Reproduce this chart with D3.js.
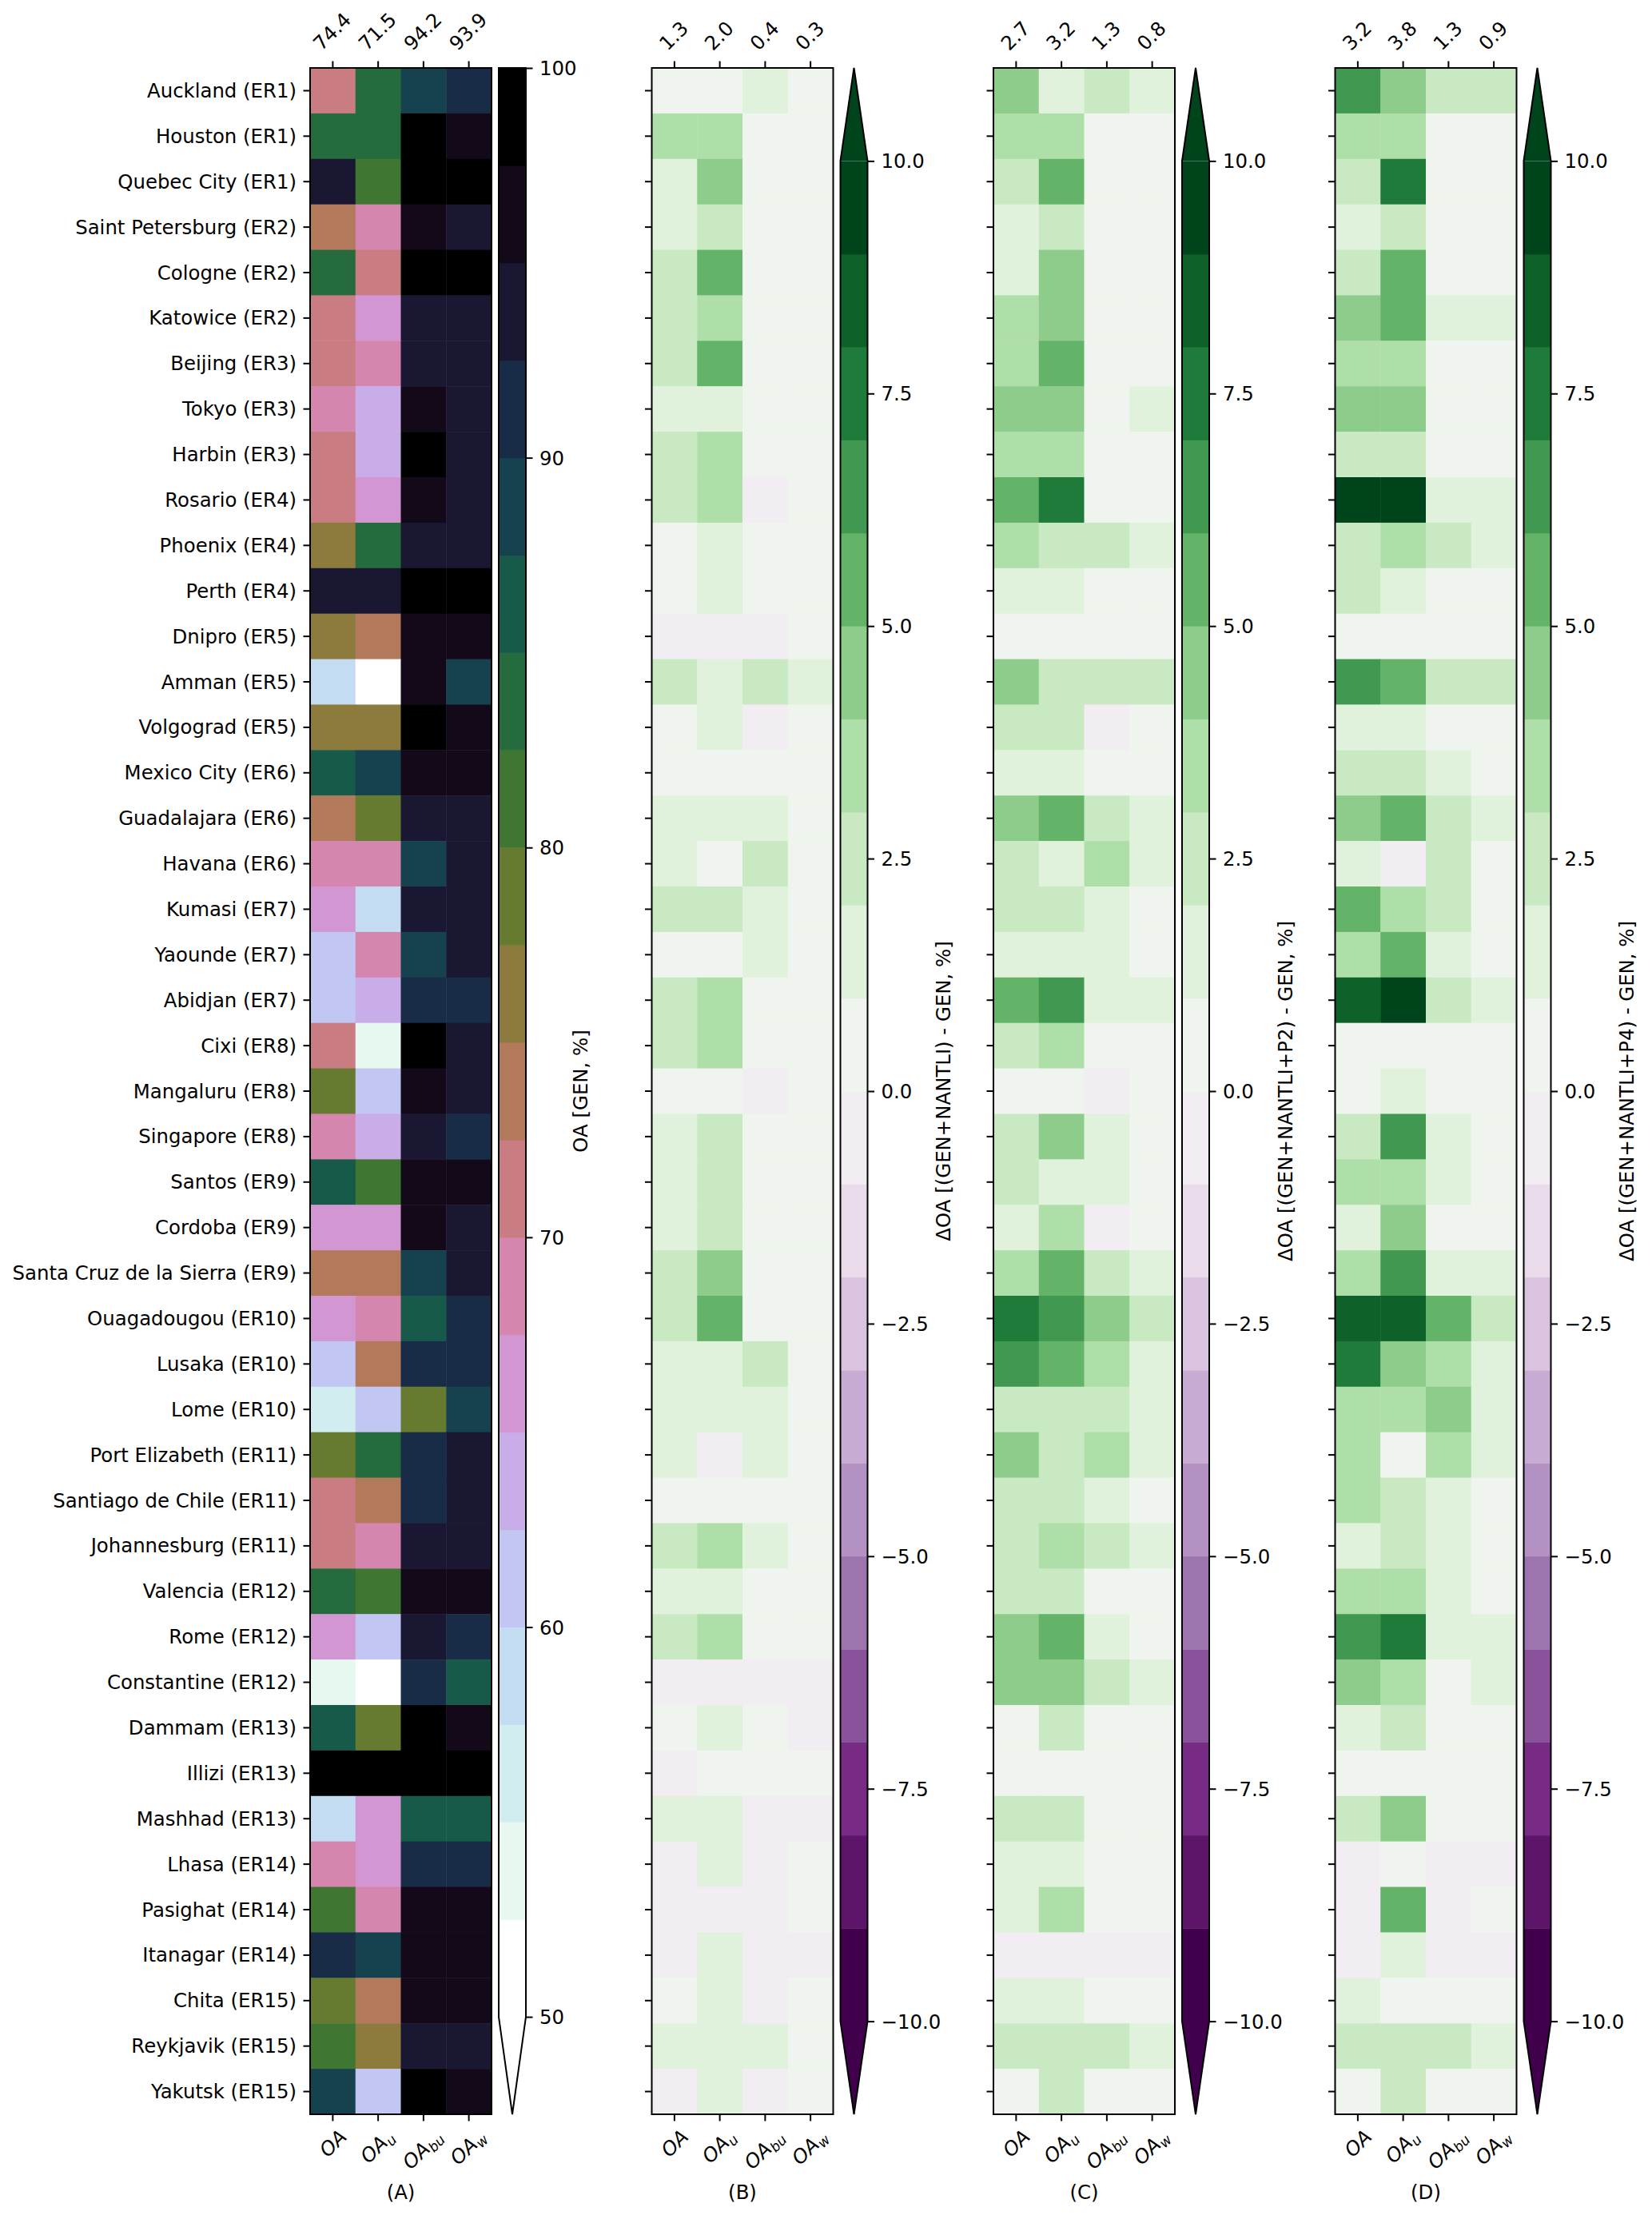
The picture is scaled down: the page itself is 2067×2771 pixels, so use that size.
<!DOCTYPE html>
<html><head><meta charset="utf-8">
<script src="https://cdn.jsdelivr.net/npm/d3@7"></script>
<style>body{margin:0;background:#fff}</style>
</head><body><svg id="chart" width="2067" height="2771" xmlns="http://www.w3.org/2000/svg"></svg>
<script>
const cities = ["Auckland (ER1)","Houston (ER1)","Quebec City (ER1)","Saint Petersburg (ER2)","Cologne (ER2)","Katowice (ER2)","Beijing (ER3)","Tokyo (ER3)","Harbin (ER3)","Rosario (ER4)","Phoenix (ER4)","Perth (ER4)","Dnipro (ER5)","Amman (ER5)","Volgograd (ER5)","Mexico City (ER6)","Guadalajara (ER6)","Havana (ER6)","Kumasi (ER7)","Yaounde (ER7)","Abidjan (ER7)","Cixi (ER8)","Mangaluru (ER8)","Singapore (ER8)","Santos (ER9)","Cordoba (ER9)","Santa Cruz de la Sierra (ER9)","Ouagadougou (ER10)","Lusaka (ER10)","Lome (ER10)","Port Elizabeth (ER11)","Santiago de Chile (ER11)","Johannesburg (ER11)","Valencia (ER12)","Rome (ER12)","Constantine (ER12)","Dammam (ER13)","Illizi (ER13)","Mashhad (ER13)","Lhasa (ER14)","Pasighat (ER14)","Itanagar (ER14)","Chita (ER15)","Reykjavik (ER15)","Yakutsk (ER15)"];
const metrics = ["OA","OA_u","OA_bu","OA_w"];
const metricSubs = ["","u","bu","w"];

// Panel A: OA [GEN, %]
const oaGen = [
[71.25,83.75,88.75,91.25],[83.75,83.75,98.75,96.25],[93.75,81.25,98.75,98.75],[73.75,68.75,96.25,93.75],
[83.75,71.25,98.75,98.75],[71.25,66.25,93.75,93.75],[71.25,68.75,93.75,93.75],[68.75,63.75,96.25,93.75],
[71.25,63.75,98.75,93.75],[71.25,66.25,96.25,93.75],[76.25,83.75,93.75,93.75],[93.75,93.75,98.75,98.75],
[76.25,73.75,96.25,96.25],[58.75,51.25,96.25,88.75],[76.25,76.25,98.75,96.25],[86.25,88.75,96.25,96.25],
[73.75,78.75,93.75,93.75],[68.75,68.75,88.75,93.75],[66.25,58.75,93.75,93.75],[61.25,68.75,88.75,93.75],
[61.25,63.75,91.25,91.25],[71.25,53.75,98.75,93.75],[78.75,61.25,96.25,93.75],[68.75,63.75,93.75,91.25],
[86.25,81.25,96.25,96.25],[66.25,66.25,96.25,93.75],[73.75,73.75,88.75,93.75],[66.25,68.75,86.25,91.25],
[61.25,73.75,91.25,91.25],[56.25,61.25,78.75,88.75],[78.75,83.75,91.25,93.75],[71.25,73.75,91.25,93.75],
[71.25,68.75,93.75,93.75],[83.75,81.25,96.25,96.25],[66.25,61.25,93.75,91.25],[53.75,51.25,91.25,86.25],
[86.25,78.75,98.75,96.25],[98.75,98.75,98.75,98.75],[58.75,66.25,86.25,86.25],[68.75,66.25,91.25,91.25],
[81.25,68.75,96.25,96.25],[91.25,88.75,96.25,96.25],[78.75,73.75,96.25,96.25],[81.25,76.25,93.75,93.75],
[88.75,61.25,98.75,96.25]];

// Panel B: (GEN+NANTLI) - GEN
const dNantli = [
[0.5,0.5,1.5,0.5],[3.5,3.5,0.5,0.5],[1.5,4.5,0.5,0.5],[1.5,2.5,0.5,0.5],[2.5,5.5,0.5,0.5],
[2.5,3.5,0.5,0.5],[2.5,5.5,0.5,0.5],[1.5,1.5,0.5,0.5],[2.5,3.5,0.5,0.5],[2.5,3.5,-0.5,0.5],
[0.5,1.5,0.5,0.5],[0.5,1.5,0.5,0.5],[-0.5,-0.5,-0.5,0.5],[2.5,1.5,2.5,1.5],[0.5,1.5,-0.5,0.5],
[0.5,0.5,0.5,0.5],[1.5,1.5,1.5,0.5],[1.5,0.5,2.5,0.5],[2.5,2.5,1.5,0.5],[0.5,0.5,1.5,0.5],
[2.5,3.5,0.5,0.5],[2.5,3.5,0.5,0.5],[0.5,0.5,-0.5,0.5],[1.5,2.5,0.5,0.5],[1.5,2.5,0.5,0.5],
[1.5,2.5,0.5,0.5],[2.5,4.5,0.5,0.5],[2.5,5.5,0.5,0.5],[1.5,1.5,2.5,0.5],[1.5,1.5,1.5,0.5],
[1.5,-0.5,1.5,0.5],[0.5,0.5,0.5,0.5],[2.5,3.5,1.5,0.5],[1.5,1.5,0.5,0.5],[2.5,3.5,0.5,0.5],
[-0.5,-0.5,-0.5,-0.5],[0.5,1.5,0.5,-0.5],[-0.5,0.5,0.5,0.5],[1.5,1.5,-0.5,-0.5],[-0.5,1.5,-0.5,0.5],
[-0.5,-0.5,-0.5,0.5],[-0.5,1.5,-0.5,-0.5],[0.5,1.5,-0.5,0.5],[1.5,1.5,1.5,0.5],[-0.5,1.5,-0.5,0.5]];

// Panel C: (GEN+NANTLI+P2) - GEN
const dNantliP2 = [
[4.5,1.5,2.5,1.5],[3.5,3.5,0.5,0.5],[2.5,5.5,0.5,0.5],[1.5,2.5,0.5,0.5],[1.5,4.5,0.5,0.5],
[3.5,4.5,0.5,0.5],[3.5,5.5,0.5,0.5],[4.5,4.5,0.5,1.5],[3.5,3.5,0.5,0.5],[5.5,7.5,0.5,0.5],
[3.5,2.5,2.5,1.5],[1.5,1.5,0.5,0.5],[0.5,0.5,0.5,0.5],[4.5,2.5,2.5,2.5],[2.5,2.5,-0.5,0.5],
[1.5,1.5,0.5,0.5],[4.5,5.5,2.5,1.5],[2.5,1.5,3.5,1.5],[2.5,2.5,1.5,0.5],[1.5,1.5,1.5,0.5],
[5.5,6.5,1.5,1.5],[2.5,3.5,0.5,0.5],[0.5,0.5,-0.5,0.5],[2.5,4.5,1.5,0.5],[2.5,1.5,1.5,0.5],
[1.5,3.5,-0.5,0.5],[3.5,5.5,2.5,1.5],[7.5,6.5,4.5,2.5],[6.5,5.5,3.5,1.5],[2.5,2.5,2.5,1.5],
[4.5,2.5,3.5,1.5],[2.5,2.5,1.5,0.5],[2.5,3.5,2.5,1.5],[2.5,2.5,0.5,0.5],[4.5,5.5,1.5,0.5],
[4.5,4.5,2.5,1.5],[0.5,2.5,0.5,0.5],[0.5,0.5,0.5,0.5],[2.5,2.5,0.5,0.5],[1.5,1.5,0.5,0.5],
[1.5,3.5,0.5,0.5],[-0.5,-0.5,-0.5,-0.5],[1.5,1.5,0.5,0.5],[2.5,2.5,2.5,1.5],[0.5,2.5,0.5,0.5]];

// Panel D: (GEN+NANTLI+P4) - GEN
const dNantliP4 = [
[6.5,4.5,2.5,2.5],[3.5,3.5,0.5,0.5],[2.5,7.5,0.5,0.5],[1.5,2.5,0.5,0.5],[2.5,5.5,0.5,0.5],
[4.5,5.5,1.5,1.5],[3.5,3.5,0.5,0.5],[4.5,4.5,0.5,0.5],[2.5,2.5,0.5,0.5],[9.5,9.5,1.5,1.5],
[2.5,3.5,2.5,1.5],[2.5,1.5,0.5,0.5],[0.5,0.5,0.5,0.5],[6.5,5.5,2.5,2.5],[1.5,1.5,0.5,0.5],
[2.5,2.5,1.5,0.5],[4.5,5.5,2.5,1.5],[1.5,-0.5,2.5,0.5],[5.5,3.5,2.5,0.5],[3.5,5.5,1.5,0.5],
[8.5,9.5,2.5,1.5],[0.5,0.5,0.5,0.5],[0.5,1.5,0.5,0.5],[2.5,6.5,1.5,0.5],[3.5,3.5,1.5,0.5],
[1.5,4.5,0.5,0.5],[3.5,6.5,1.5,1.5],[8.5,8.5,5.5,2.5],[7.5,4.5,3.5,1.5],[3.5,3.5,4.5,1.5],
[3.5,0.5,3.5,1.5],[3.5,2.5,1.5,0.5],[1.5,2.5,1.5,0.5],[3.5,3.5,1.5,0.5],[6.5,7.5,1.5,1.5],
[4.5,3.5,0.5,1.5],[1.5,2.5,0.5,0.5],[0.5,0.5,0.5,0.5],[2.5,4.5,0.5,0.5],[-0.5,0.5,-0.5,-0.5],
[-0.5,5.5,-0.5,0.5],[-0.5,1.5,-0.5,-0.5],[1.5,0.5,0.5,0.5],[2.5,2.5,2.5,1.5],[0.5,2.5,0.5,0.5]];

const meansA = ["74.4","71.5","94.2","93.9"];
const meansB = ["1.3","2.0","0.4","0.3"];
const meansC = ["2.7","3.2","1.3","0.8"];
const meansD = ["3.2","3.8","1.3","0.9"];
const panelLetters = ["(A)","(B)","(C)","(D)"];
const cbLabels = ["OA [GEN, %]","ΔOA [(GEN+NANTLI) - GEN, %]","ΔOA [(GEN+NANTLI+P2) - GEN, %]","ΔOA [(GEN+NANTLI+P4) - GEN, %]"];
const ticksA = [50,60,70,80,90,100];
const ticksD = [-10,-7.5,-5,-2.5,0,2.5,5,7.5,10];

(function(){
function cubehelix(x){
  const s=0.5,r=-1.5,h=1.0;
  const a=h*x*(1-x)/2;
  const phi=2*Math.PI*(s/3+r*x);
  const c=Math.cos(phi), sn=Math.sin(phi);
  const R=x+a*(-0.14861*c+1.78277*sn);
  const G=x+a*(-0.29227*c-0.90649*sn);
  const B=x+a*(1.97294*c);
  const cl=v=>Math.round(255*Math.max(0,Math.min(1,v)));
  return d3.rgb(cl(R),cl(G),cl(B)).formatHex();
}
const prgnStops=["#40004b","#762a83","#9970ab","#c2a5cf","#e7d4e8","#f7f7f7","#d9f0d3","#a6dba0","#5aae61","#1b7837","#00441b"];
const prgn=d3.scaleLinear().domain(d3.range(11).map(i=>i/10)).range(prgnStops).interpolate(d3.interpolateRgb);
const lutT=(i,n)=>Math.floor(i*255/(n-1))/255;

const boundsA=d3.range(50,100.001,2.5);
const boundsD=d3.range(-10,10.001,1);
const colorsA=d3.range(20).map(i=>cubehelix(1-lutT(i,20)));
const colorsD=d3.range(20).map(i=>d3.rgb(prgn(lutT(i,20))).formatHex());
const colA=d3.scaleThreshold().domain(boundsA.slice(1,-1)).range(colorsA);
const colD=d3.scaleThreshold().domain(boundsD.slice(1,-1)).range(colorsD);

const W=2067,H=2771;
const FS=24.4, FONT="DejaVu Sans";
const axTop=85, axBot=2645;
const panelLeft=[388,815.5,1243,1670.5], panelW=227;
const cbGap=9, cbW=34, tickLen=8.5, tickPad=8.5;
const cbLabelOff=[68,95,95,95];

const svg=d3.select("#chart");
svg.append("rect").attr("width",W).attr("height",H).attr("fill","#fff");

const y=d3.scaleBand().domain(cities).range([axTop,axBot]).padding(0);

const panels=[
  {data:oaGen,means:meansA,color:colA,bounds:boundsA,ticks:ticksA,fmt:d3.format("d"),ext:"min",under:cubehelix(1),over:null},
  {data:dNantli,means:meansB,color:colD,bounds:boundsD,ticks:ticksD,fmt:d3.format(".1f"),ext:"both",under:colorsD[0],over:colorsD[19]},
  {data:dNantliP2,means:meansC,color:colD,bounds:boundsD,ticks:ticksD,fmt:d3.format(".1f"),ext:"both",under:colorsD[0],over:colorsD[19]},
  {data:dNantliP4,means:meansD,color:colD,bounds:boundsD,ticks:ticksD,fmt:d3.format(".1f"),ext:"both",under:colorsD[0],over:colorsD[19]}
];

function styleAxis(g){
  g.attr("font-family",FONT).attr("font-size",FS);
  g.select(".domain").remove();
  g.selectAll(".tick line").attr("stroke","#000").attr("stroke-width",2);
  g.selectAll(".tick text").attr("fill","#000");
}

panels.forEach((p,pi)=>{
  const x0=panelLeft[pi];
  const x=d3.scaleBand().domain(metrics).range([x0,x0+panelW]).padding(0);
  const g=svg.append("g");
  p.data.forEach((row,ri)=>{
    row.forEach((v,ci)=>{
      g.append("rect")
        .attr("x",x(metrics[ci])).attr("y",y(cities[ri]))
        .attr("width",x.bandwidth()+0.5).attr("height",y.bandwidth()+0.5)
        .attr("fill",p.color(v));
    });
  });
  g.append("rect").attr("x",x0).attr("y",axTop).attr("width",panelW).attr("height",axBot-axTop)
    .attr("fill","none").attr("stroke","#000").attr("stroke-width",2);
  const ya=svg.append("g").attr("transform",`translate(${x0},0)`)
    .call(d3.axisLeft(y).tickSize(tickLen).tickPadding(tickPad).tickFormat(pi===0?(d=>d):(()=>"")));
  styleAxis(ya);
  ya.selectAll(".tick text").attr("dy","0.35em");
  const ta=svg.append("g").attr("transform",`translate(0,${axTop})`)
    .call(d3.axisTop(x).tickSize(tickLen).tickFormat(()=>""));
  styleAxis(ta);
  const ba=svg.append("g").attr("transform",`translate(0,${axBot})`)
    .call(d3.axisBottom(x).tickSize(tickLen).tickFormat(()=>""));
  styleAxis(ba);

  metrics.forEach((m,ci)=>{
    const cx=x(m)+x.bandwidth()/2;
    const t=svg.append("text").attr("font-family",FONT).attr("font-size",FS)
      .attr("text-anchor","middle").attr("dy","0.3em").text(p.means[ci]);
    const w=t.node().getComputedTextLength();
    const d=(w+FS)/Math.SQRT2;
    const cy=axTop-tickLen-tickPad-d/2;
    t.attr("transform",`translate(${cx},${cy}) rotate(-45)`);
  });
  metrics.forEach((m,ci)=>{
    const cx=x(m)+x.bandwidth()/2;
    const sub=metricSubs[ci];
    const b=sub?0.2:0.0;
    const t=svg.append("text").attr("font-family",FONT).attr("font-size",FS)
      .attr("font-style","italic").attr("text-anchor","middle")
      .attr("y",((0.73-b)/2*FS).toFixed(2));
    t.append("tspan").text("OA");
    if(sub){ t.append("tspan").attr("font-size",FS*0.7).attr("dy",FS*0.2).text(sub); }
    const w=t.node().getComputedTextLength();
    const h=(0.73+b)*FS;
    const d=(w+h)/Math.SQRT2;
    const cy=axBot+tickLen+tickPad+d/2;
    t.attr("transform",`translate(${cx},${cy}) rotate(-45)`);
  });
  svg.append("text").attr("font-family",FONT).attr("font-size",FS).attr("text-anchor","middle")
    .attr("x",x0+panelW/2).attr("y",2751).text(panelLetters[pi]);

  const cx0=x0+panelW+cbGap, cx1=cx0+cbW, cxm=(cx0+cx1)/2;
  const L=axBot-axTop;
  let iTop,iBot;
  if(p.ext==="both"){ const inner=L/1.1; iTop=axTop+inner*0.05; iBot=axBot-inner*0.05; }
  else { const inner=L/1.05; iTop=axTop; iBot=axTop+inner; }
  const lo=p.bounds[0], hi=p.bounds[p.bounds.length-1];
  const cs=d3.scaleLinear().domain([lo,hi]).range([iBot,iTop]);
  const cg=svg.append("g");
  for(let i=0;i<p.bounds.length-1;i++){
    const v0=p.bounds[i], v1=p.bounds[i+1];
    cg.append("rect").attr("x",cx0).attr("width",cbW)
      .attr("y",cs(v1)).attr("height",cs(v0)-cs(v1)+0.5)
      .attr("fill",p.color((v0+v1)/2));
  }
  cg.append("path").attr("d",`M${cx0},${iBot}L${cx1},${iBot}L${cxm},${axBot}Z`).attr("fill",p.under);
  if(p.ext==="both"){
    cg.append("path").attr("d",`M${cx0},${iTop}L${cx1},${iTop}L${cxm},${axTop}Z`).attr("fill",p.over);
    cg.append("path").attr("d",`M${cxm},${axTop}L${cx1},${iTop}L${cx1},${iBot}L${cxm},${axBot}L${cx0},${iBot}L${cx0},${iTop}Z`)
      .attr("fill","none").attr("stroke","#000").attr("stroke-width",2);
  } else {
    cg.append("path").attr("d",`M${cx0},${axTop}L${cx1},${axTop}L${cx1},${iBot}L${cxm},${axBot}L${cx0},${iBot}Z`)
      .attr("fill","none").attr("stroke","#000").attr("stroke-width",2);
  }
  const ca=svg.append("g").attr("transform",`translate(${cx1},0)`)
    .call(d3.axisRight(cs).tickValues(p.ticks).tickSize(tickLen).tickPadding(tickPad).tickFormat(p.fmt));
  styleAxis(ca);
  ca.selectAll(".tick text").attr("dy","0.35em");
  svg.append("text").attr("font-family",FONT).attr("font-size",FS).attr("text-anchor","middle")
    .attr("dy","0.35em")
    .attr("transform",`translate(${cx1+cbLabelOff[pi]},${(axTop+axBot)/2}) rotate(-90)`)
    .text(cbLabels[pi]);
});
})();
</script>
</body></html>
